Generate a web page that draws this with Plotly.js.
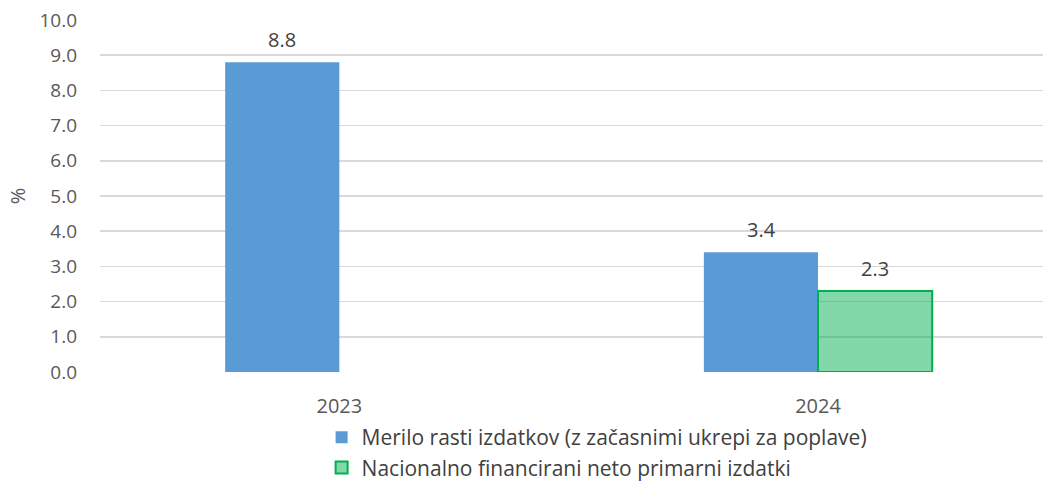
<!DOCTYPE html>
<html>
<head>
<meta charset="utf-8">
<script src="https://cdn.plot.ly/plotly-3.0.1.min.js"></script>
<style>html,body{margin:0;padding:0;background:#fff;}#chart{width:1044px;height:485px;}</style>
</head>
<body>
<div id="chart"></div>
<script>
var categories = ["2023", "2024"];
var seriesNames = ["Merilo rasti izdatkov (z začasnimi ukrepi za poplave)", "Nacionalno financirani neto primarni izdatki"];
var seriesA = [8.8, 3.4];
var seriesB = [null, 2.3];
var yTicks = [0, 1, 2, 3, 4, 5, 6, 7, 8, 9, 10];
var yTickLabels = ["0.0","1.0","2.0","3.0","4.0","5.0","6.0","7.0","8.0","9.0","10.0"];

var fnt = "'Open Sans', 'Noto Sans', sans-serif";
var traces = [
  {
    type: "bar", name: seriesNames[0], x: categories, y: seriesA,
    marker: {color: "#5B9BD5", line: {width: 0}}
  },
  {
    type: "bar", name: seriesNames[1], x: categories, y: seriesB,
    marker: {color: "rgba(0,176,80,0.49)", line: {color: "#00B050", width: 2}}
  }
];

var annotations = [];
[seriesA, seriesB].forEach(function(s, si){
  s.forEach(function(v, i){
    if (v == null) return;
    annotations.push({
      x: i, y: v, xref: "x", yref: "y",
      text: v.toFixed(1), showarrow: false,
      xanchor: "center", yanchor: "bottom",
      xshift: si === 0 ? -57 : 57, yshift: 7,
      font: {family: fnt, size: 20, color: "#404040"}
    });
  });
});

var layout = {
  width: 1044, height: 485,
  margin: {l: 100, r: 1, t: 20, b: 113},
  paper_bgcolor: "#fff", plot_bgcolor: "#fff",
  font: {family: fnt, size: 18, color: "#595959"},
  barmode: "group", bargap: 0.523, bargroupgap: 0,
  showlegend: true,
  annotations: annotations,
  legend: {
    orientation: "v", x: 0.235, xanchor: "left",
    yref: "container", y: 0.14, yanchor: "top",
    font: {family: fnt, size: 21, color: "#404040"},
    tracegroupgap: 2, itemwidth: 30
  },
  xaxis: {
    type: "category", range: [-0.5, 1.47],
    showgrid: false, zeroline: false, showline: false,
    ticks: "", ticklabelstandoff: 20,
    tickfont: {family: fnt, size: 20, color: "#595959"}
  },
  yaxis: {
    range: [0, 10], tickvals: yTicks, ticktext: yTickLabels,
    showgrid: true, gridcolor: "#D9D9D9", gridwidth: 1.5,
    zeroline: false, showline: false, ticks: "",
    ticklabelstandoff: 22,
    tickfont: {family: fnt, size: 19, color: "#595959"},
    title: {text: "%", standoff: 8, font: {family: fnt, size: 20, color: "#595959"}}
  }
};

Plotly.newPlot("chart", traces, layout, {displayModeBar: false, staticPlot: true});
</script>
</body>
</html>
